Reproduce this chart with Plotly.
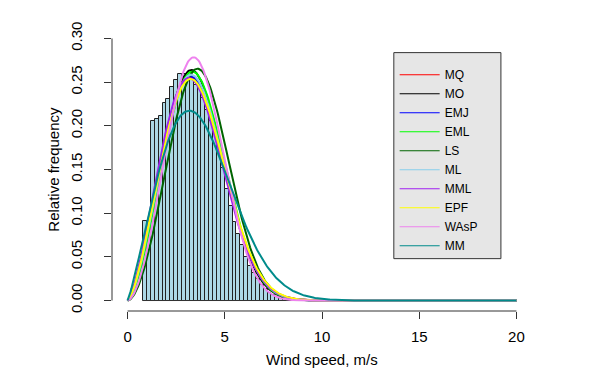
import numpy as np
import plotly.graph_objects as go

# Histogram of observed wind speed (relative frequency density), bin width 0.2 m/s
bin_start = 0.8
bin_width = 0.2
rel_freq = [0.091, 0.091, 0.206, 0.208, 0.211, 0.226, 0.231, 0.244, 0.253, 0.259,
            0.259, 0.256, 0.253, 0.247, 0.242, 0.232, 0.218, 0.205, 0.192, 0.175,
            0.152, 0.128, 0.108, 0.090, 0.076, 0.064, 0.050, 0.040, 0.032, 0.025,
            0.018, 0.013, 0.009, 0.006, 0.004, 0.003, 0.002, 0.001, 0.0005, 0.0,
            0.0, 0.0, 0.0, 0.0, 0.0, 0.0, 0.0, 0.0, 0.0, 0.0,
            0.0, 0.0, 0.0, 0.0, 0.0]

# Fitted Weibull parameters per estimation method
methods = ["MQ", "MO", "EMJ", "EML", "LS", "ML", "MML", "EPF", "WAsP", "MM"]
shape_k = [2.50, 2.60, 2.52, 2.62, 2.82, 2.55, 2.45, 2.50, 2.80, 2.19]
scale_c = [3.95, 3.95, 3.96, 4.00, 4.20, 3.97, 3.90, 3.98, 3.98, 4.20]
colors = ["red", "black", "blue", "#00FF00", "darkgreen", "skyblue",
          "#A020F0", "yellow", "violet", "#008B8B"]

FONT = "Liberation Sans, Arial, sans-serif"


def dweibull(x, k, c):
    return (k / c) * (x / c) ** (k - 1) * np.exp(-(x / c) ** k)


def main():
    edges = bin_start + bin_width * np.arange(len(rel_freq) + 1)
    centers = (edges[:-1] + edges[1:]) / 2

    fig = go.Figure()

    # empty bins are drawn by R as a flat line on zero
    fig.add_trace(go.Scatter(x=[edges[0], edges[-1]], y=[0, 0], mode="lines",
                             line=dict(color="#333333", width=1),
                             showlegend=False, hoverinfo="skip"))
    fig.add_trace(go.Bar(x=centers, y=rel_freq, width=bin_width,
                         marker=dict(color="lightblue",
                                     line=dict(color="#222222", width=1)),
                         showlegend=False))

    xs = np.linspace(0.0001, 20, 401)
    for name, k, c, col in zip(methods, shape_k, scale_c, colors):
        fig.add_trace(go.Scatter(x=xs, y=dweibull(xs, k, c), mode="lines",
                                 name=name, line=dict(color=col, width=2),
                                 showlegend=False))
    # thin legend keys, as in the R legend
    for name, col in zip(methods, colors):
        fig.add_trace(go.Scatter(x=[None], y=[None], mode="lines", name=name,
                                 line=dict(color=col, width=1)))

    fig.update_layout(
        width=591, height=391,
        margin=dict(l=112, r=59, t=28, b=80),
        paper_bgcolor="white", plot_bgcolor="white",
        font=dict(family=FONT, size=15, color="black"),
        bargap=0,
        legend=dict(x=0.673, y=0.886, xanchor="left", yanchor="top",
                    bgcolor="rgba(0,0,0,0)", borderwidth=0,
                    font=dict(size=12), itemwidth=40),
        xaxis=dict(range=[-0.8, 20.8], tickmode="array",
                   tickvals=[0, 5, 10, 15, 20], ticks="outside", ticklen=7,
                   tickcolor="#333333", showgrid=False, zeroline=False,
                   showline=False, ticklabelstandoff=5, automargin=False),
        yaxis=dict(range=[-0.012, 0.312], tickmode="array",
                   tickvals=[0, 0.05, 0.10, 0.15, 0.20, 0.25, 0.30],
                   tickformat=".2f", ticks="outside", ticklen=7,
                   tickcolor="#333333", showgrid=False, zeroline=False,
                   showline=False, tickangle=-90, ticklabelstandoff=16,
                   automargin=False),
        shapes=[
            # R-style axis lines spanning first to last tick
            dict(type="line", xref="x", yref="paper", x0=0, x1=20, y0=0, y1=0,
                 line=dict(color="#333333", width=1)),
            dict(type="line", xref="paper", yref="y", x0=0, x1=0, y0=0, y1=0.3,
                 line=dict(color="#333333", width=1)),
            # legend box
            dict(type="rect", xref="paper", yref="paper",
                 x0=0.671, x1=0.926, y0=0.185, y1=0.913,
                 fillcolor="#E6E6E6", line=dict(color="#333333", width=1),
                 layer="above"),
        ],
        annotations=[
            dict(text="Wind speed, m/s", xref="paper", yref="paper",
                 x=0.5, y=-0.17, showarrow=False, yanchor="middle",
                 font=dict(size=15)),
            dict(text="Relative frequency", xref="paper", yref="paper",
                 x=-0.14, y=0.5, showarrow=False, textangle=-90,
                 xanchor="center", font=dict(size=15)),
        ],
    )

    # drop the browser's default page margin so the figure sits at (0, 0)
    fig.write_html("out.html", config={"displayModeBar": False},
                   post_script="document.body.style.margin='0';")


if __name__ == "__main__":
    main()
